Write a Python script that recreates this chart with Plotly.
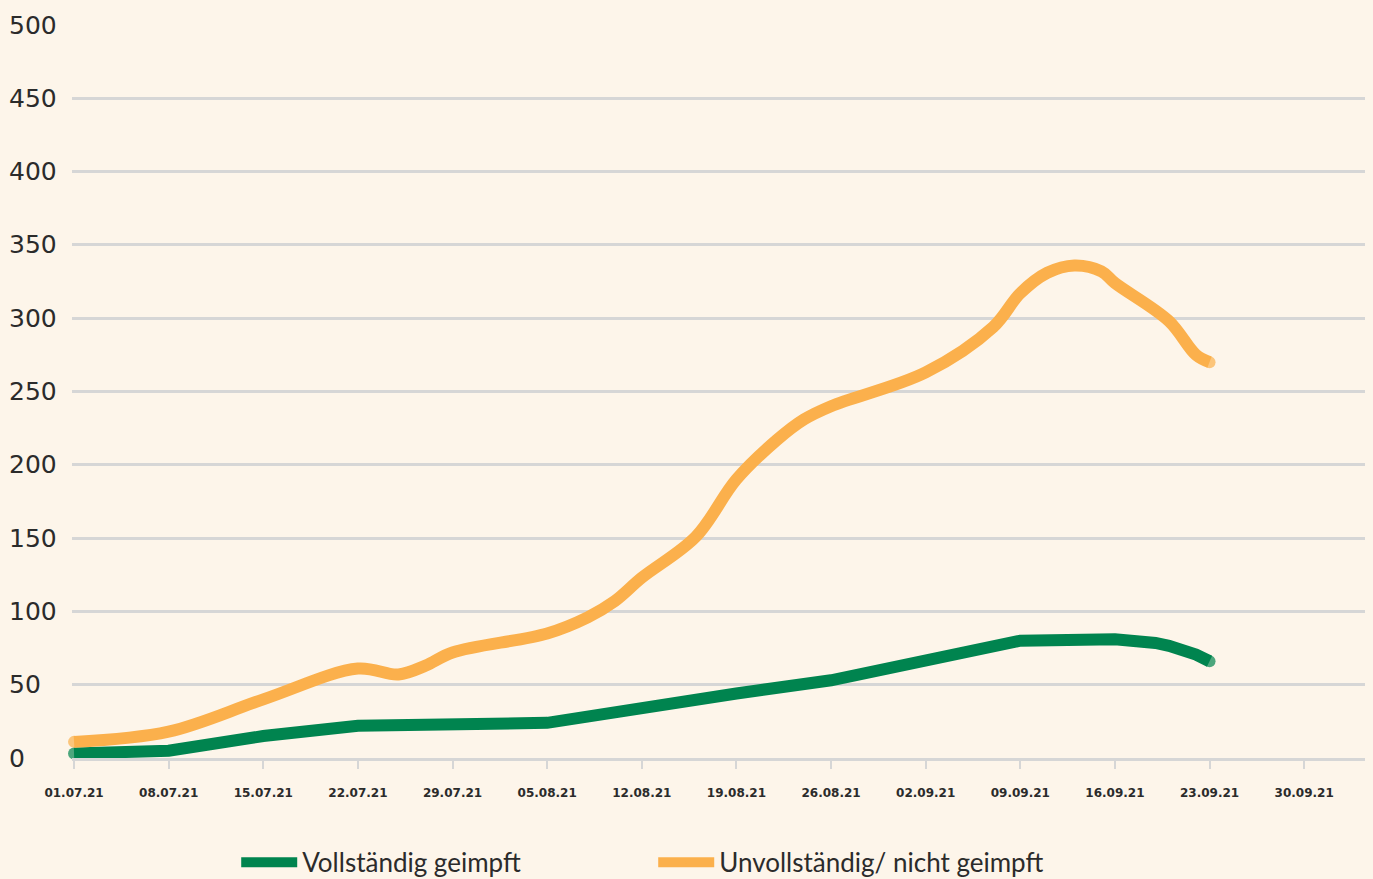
import plotly.graph_objects as go

# Data
green_dates = ["2021-07-01", "2021-07-08", "2021-07-15", "2021-07-22", "2021-08-05",
               "2021-08-12", "2021-08-19", "2021-08-26", "2021-09-02", "2021-09-09",
               "2021-09-16", "2021-09-18", "2021-09-19", "2021-09-20", "2021-09-21",
               "2021-09-22", "2021-09-23"]
green_values = [3, 5, 15, 22, 24, 35, 44, 53, 66, 80, 81, 80, 78.5, 76.5, 74, 70.5, 66]

orange_dates = ["2021-07-01", "2021-07-08", "2021-07-15", "2021-07-22", "2021-07-25",
                "2021-07-27", "2021-07-29", "2021-08-05", "2021-08-08", "2021-08-10",
                "2021-08-12", "2021-08-16", "2021-08-19", "2021-08-22", "2021-08-24",
                "2021-08-26", "2021-09-02", "2021-09-07", "2021-09-09", "2021-09-11",
                "2021-09-13", "2021-09-15", "2021-09-16", "2021-09-20", "2021-09-22",
                "2021-09-23"]
orange_values = [11, 18, 40, 61, 57,
                 63, 72, 85, 96, 107,
                 123, 151, 190, 217, 231,
                 240, 263, 294, 317, 331,
                 336, 332, 324, 298, 275,
                 270]

tick_dates = ["2021-07-01", "2021-07-08", "2021-07-15", "2021-07-22", "2021-07-29",
              "2021-08-05", "2021-08-12", "2021-08-19", "2021-08-26", "2021-09-02",
              "2021-09-09", "2021-09-16", "2021-09-23", "2021-09-30"]
tick_labels = ["01.07.21", "08.07.21", "15.07.21", "22.07.21", "29.07.21",
               "05.08.21", "12.08.21", "19.08.21", "26.08.21", "02.09.21",
               "09.09.21", "16.09.21", "23.09.21", "30.09.21"]
y_ticks = [0, 50, 100, 150, 200, 250, 300, 350, 400, 450, 500]

series_names = ["Vollständig geimpft", "Unvollständig/ nicht geimpft"]

GREEN = "#00844F"
ORANGE = "#FBB04C"
BG = "#FDF5EA"
GRID = "#D6D6D6"
TEXT = "#2b2b2b"

def end_sizes(n, s=12):
    return [s] + [0] * (n - 2) + [s]

fig = go.Figure()
fig.add_trace(go.Scatter(
    x=green_dates, y=green_values, name=series_names[0],
    mode="lines+markers", line=dict(color=GREEN, width=12, shape="linear"),
    marker=dict(color=GREEN, size=end_sizes(len(green_values)), line=dict(width=0)),
    cliponaxis=False,
))
fig.add_trace(go.Scatter(
    x=orange_dates, y=orange_values, name=series_names[1],
    mode="lines+markers", line=dict(color=ORANGE, width=12, shape="spline", smoothing=1.0),
    marker=dict(color=ORANGE, size=end_sizes(len(orange_values)), line=dict(width=0)),
    cliponaxis=False,
))

for v in y_ticks:
    fig.add_annotation(xref="paper", yref="y", x=-0.0503, y=v, xanchor="left",
                       yanchor="middle", text=str(v), showarrow=False,
                       font=dict(family="DejaVu Sans", size=25, color=TEXT))

fig.update_layout(
    width=1373, height=879, autosize=False,
    paper_bgcolor=BG, plot_bgcolor=BG,
    margin=dict(l=72, r=8, t=25, b=121, autoexpand=False),
    showlegend=True,
    legend=dict(orientation="h", x=0.127, xanchor="left",
                yref="container", y=0.019, yanchor="middle",
                font=dict(family="Lato", size=26, color=TEXT),
                entrywidth=346, entrywidthmode="pixels", itemwidth=56,
                bgcolor="rgba(0,0,0,0)"),
    xaxis=dict(type="date", range=["2021-06-30 20:24", "2021-10-04 12:00"],
               tickvals=tick_dates, ticktext=tick_labels,
               showgrid=False, showline=True, linecolor=GRID, linewidth=3,
               ticks="outside", ticklen=8, tickwidth=2, tickcolor=GRID,
               ticklabelstandoff=14,
               tickfont=dict(family="DejaVu Sans", size=12, color=TEXT, weight=700),
               zeroline=False),
    yaxis=dict(range=[0, 500], tickvals=y_ticks, showticklabels=False,
               showgrid=True, gridcolor=GRID, gridwidth=2.5, zeroline=False,
               showline=False),
)

fig.write_html("out.html",
               config={"responsive": False, "displayModeBar": False},
               post_script="document.body.style.margin='0';document.body.style.overflow='hidden';document.body.style.background='%s';" % BG)
